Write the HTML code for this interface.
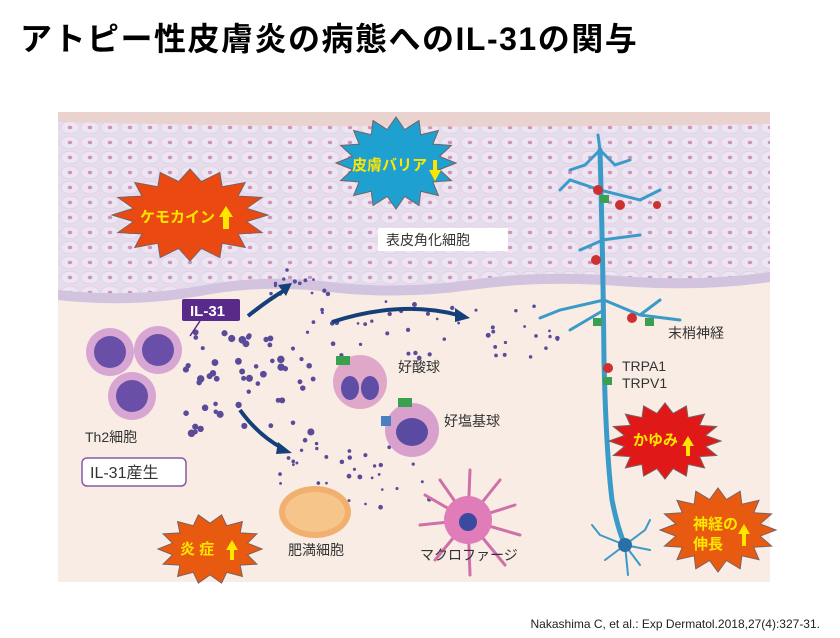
<!DOCTYPE html>
<html><head><meta charset="utf-8"><style>
body{margin:0;background:#fff;width:840px;height:638px;overflow:hidden;font-family:"Liberation Sans","Noto Sans CJK JP",sans-serif}
h1{position:absolute;left:20px;top:14px;margin:0;font-size:32px;font-weight:bold;color:#000;letter-spacing:1.5px;font-family:"Liberation Sans","Noto Sans CJK JP",sans-serif}
.cite{position:absolute;right:20px;top:617px;font-size:12px;color:#222}
svg{position:absolute;left:0;top:0}
</style></head><body>
<h1>アトピー性皮膚炎の病態へのIL-31の関与</h1>
<svg id="s" width="840" height="638" xmlns="http://www.w3.org/2000/svg" font-family="Liberation Sans, Noto Sans CJK JP, sans-serif">
<defs>
<pattern id="cells" width="20" height="15" patternUnits="userSpaceOnUse">
<rect width="20" height="15" fill="#e6dcec"/>
<ellipse cx="10" cy="7.5" rx="9" ry="6.3" fill="#ede5f2" stroke="#dacde2" stroke-width="0.6"/>
<ellipse cx="10" cy="7.5" rx="2.2" ry="1.7" fill="#cf93b8"/>
</pattern>
</defs>
<rect x="58" y="112" width="712" height="470" fill="#f8ece5"/>
<path d="M58 112 H770 V282 Q700 292 620 286 Q540 280 470 290 Q400 300 330 292 Q260 284 200 296 Q130 308 58 300 Z" fill="url(#cells)"/>
<path d="M58 112 H770 V124 Q400 130 58 122 Z" fill="#ead2cf"/>
<path d="M58 290 Q130 298 200 286 Q260 274 330 282 Q400 290 470 280 Q540 270 620 276 Q700 282 770 272 V282 Q700 292 620 286 Q540 280 470 290 Q400 300 330 292 Q260 284 200 296 Q130 308 58 300 Z" fill="#d2c3de"/>
<g id="dots" fill="#5a4a9a"></g>
<g stroke="#3a9ac8" fill="none" stroke-linecap="round">
<path d="M600 150 Q603 260 604 360 Q606 450 612 500 Q618 530 625 545" stroke-width="5"/>
<path d="M600 150 L585 165 M600 150 L615 165 M600 150 L598 135 M585 165 L570 170 M615 165 L630 160 M600 190 L570 180 L560 190 M600 190 L640 200 L660 190 M602 240 L640 235 M603 240 L580 250 M604 300 L640 315 L680 320 M604 300 L560 310 L540 318 M604 310 L570 330 M640 315 L660 300" stroke-width="3"/>
<path d="M625 545 L600 535 M625 545 L645 530 M625 545 L605 560 M625 545 L640 565 M625 545 L650 550 M625 545 L628 575 M600 535 L592 525 M645 530 L650 520" stroke-width="2"/>
</g>
<circle cx="625" cy="545" r="7" fill="#2a6fa8"/>
<g fill="#cc3030"><circle cx="598" cy="190" r="5"/><circle cx="620" cy="205" r="5"/><circle cx="596" cy="260" r="5"/><circle cx="632" cy="318" r="5"/><circle cx="608" cy="368" r="5"/><circle cx="657" cy="205" r="4"/></g>
<g fill="#3aa050"><rect x="600" y="195" width="9" height="8"/><rect x="593" y="318" width="9" height="8"/><rect x="603" y="377" width="9" height="8"/><rect x="645" y="318" width="9" height="8"/></g>
<g><circle cx="110" cy="352" r="24" fill="#d7a6d2"/><circle cx="110" cy="352" r="16" fill="#6a4fa8"/>
<circle cx="158" cy="350" r="24" fill="#d7a6d2"/><circle cx="158" cy="350" r="16" fill="#6a4fa8"/>
<circle cx="132" cy="396" r="24" fill="#d7a6d2"/><circle cx="132" cy="396" r="16" fill="#6a4fa8"/></g>
<circle cx="360" cy="382" r="27" fill="#e0a8c8"/><ellipse cx="350" cy="388" rx="9" ry="12" fill="#5e4ea6"/><ellipse cx="370" cy="388" rx="9" ry="12" fill="#5e4ea6"/>
<rect x="336" y="356" width="14" height="9" fill="#3aa050"/>
<circle cx="412" cy="430" r="27" fill="#d8a0cc"/><ellipse cx="412" cy="432" rx="16" ry="14" fill="#5a4aa0"/>
<rect x="398" y="398" width="14" height="9" fill="#3aa050"/><rect x="381" y="416" width="10" height="10" fill="#4a80c0"/>
<ellipse cx="315" cy="512" rx="36" ry="26" fill="#f0b070"/><ellipse cx="315" cy="512" rx="30" ry="20" fill="#f5c58a"/>
<g stroke="#d070a8" stroke-width="3" stroke-linecap="round"><path d="M468 520 L440 480 M468 520 L470 470 M468 520 L500 480 M468 520 L515 505 M468 520 L520 535 M468 520 L505 565 M468 520 L470 575 M468 520 L435 560 M468 520 L420 525 M468 520 L425 495"/></g>
<circle cx="468" cy="520" r="24" fill="#e07cb8"/><circle cx="468" cy="522" r="9" fill="#3a4aa0"/>
<g stroke="#153f78" stroke-width="4" fill="none"><path d="M248 316 Q268 300 285 290"/><path d="M332 322 Q400 300 458 315"/><path d="M240 410 Q258 435 282 448"/></g>
<g fill="#153f78"><polygon points="292,283 278,285 286,296"/><polygon points="470,318 455,308 455,322"/><polygon points="292,453 278,442 276,454"/></g>
<g id="stars"></g>
<g font-weight="bold" font-size="15" fill="#ffe600">
<text x="140" y="222">ケモカイン</text><text x="352" y="170">皮膚バリア</text>
<text x="633" y="445">かゆみ</text><text x="693" y="529">神経の</text><text x="693" y="549">伸長</text><text x="180" y="554">炎 症</text>
</g>
<g fill="#ffe600"><path d="M226 206 L219 217 H223 V229 H229 V217 H233 Z"/><path d="M433 160 H437 V170 H441 L435 181 L429 170 H433 Z"/><path d="M688 436 L682 446 H686 V456 H690 V446 H694 Z"/><path d="M744 524 L738 534 H742 V546 H746 V534 H750 Z"/><path d="M232 540 L226 550 H230 V560 H234 V550 H238 Z"/></g>
<rect x="378" y="228" width="130" height="23" fill="#fff"/>
<g font-size="14" fill="#333">
<text x="386" y="245">表皮角化細胞</text><text x="668" y="338">末梢神経</text><text x="622" y="371">TRPA1</text><text x="622" y="388">TRPV1</text>
<text x="398" y="372">好酸球</text><text x="444" y="426">好塩基球</text><text x="85" y="442">Th2細胞</text><text x="288" y="555">肥満細胞</text><text x="420" y="560">マクロファージ</text></g>
<rect x="182" y="299" width="58" height="22" rx="2" fill="#5a2a8a"/><text x="190" y="316" font-size="15" font-weight="bold" fill="#fff">IL-31</text>
<line x1="200" y1="321" x2="190" y2="336" stroke="#5a2a8a" stroke-width="1.5"/>
<rect x="82" y="458" width="104" height="28" rx="5" fill="#fff" stroke="#8a5aa8" stroke-width="1.5"/>
<text x="90" y="478" font-size="16" fill="#333">IL-31産生</text>
</svg>
<div class="cite">Nakashima C, et al.: Exp Dermatol.2018,27(4):327-31.</div>
<script>
var ns="http://www.w3.org/2000/svg";
function star(cx,cy,rx,ry,n,col){var p=[];for(var i=0;i<2*n;i++){var a=Math.PI*i/n,f=i%2?0.74:1;p.push((cx+Math.cos(a)*rx*f).toFixed(1)+","+(cy+Math.sin(a)*ry*f).toFixed(1));}
var e=document.createElementNS(ns,"polygon");e.setAttribute("points",p.join(" "));e.setAttribute("fill",col);e.setAttribute("stroke","#7a6060");e.setAttribute("stroke-width","1");document.getElementById("stars").appendChild(e);}
star(190,215,78,46,16,"#ea4a12");star(396,163,60,46,16,"#1ea0d0");star(665,441,56,38,16,"#e01818");star(718,530,58,42,16,"#e85a10");star(210,549,52,35,14,"#e85a10");
var g=document.getElementById("dots");var seed=7;function r(){seed=(seed*9301+49297)%233280;return seed/233280;}
function d(x,y,rad){var c=document.createElementNS(ns,"circle");c.setAttribute("cx",x);c.setAttribute("cy",y);c.setAttribute("r",rad);g.appendChild(c);}
for(var i=0;i<55;i++){d(185+r()*130,330+r()*110,2+r()*1.8);}
for(var i=0;i<45;i++){d(300+r()*260,300+r()*60,1.3+r()*1.2);}
for(var i=0;i<35;i++){d(280+r()*150,440+r()*70,1.3+r()*1.2);}
for(var i=0;i<14;i++){d(270+r()*60,270+r()*30,1.3+r());}
</script>
</body></html>
